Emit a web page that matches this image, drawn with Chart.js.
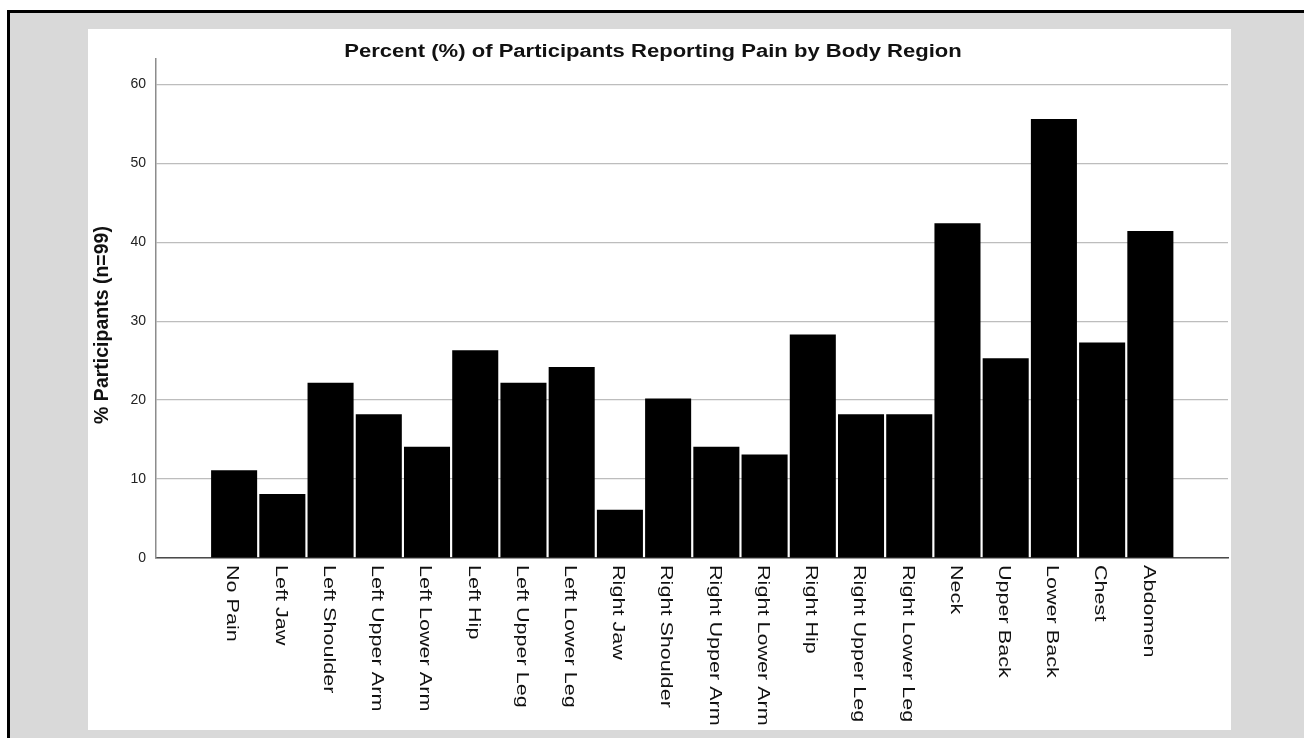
<!DOCTYPE html>
<html>
<head>
<meta charset="utf-8">
<script src="https://cdn.jsdelivr.net/npm/chart.js@4/dist/chart.umd.min.js"></script>
<style>
  html, body { margin: 0; padding: 0; background: #fff; overflow: hidden; }
  #frame {
    position: absolute; left: 7px; top: 10px; width: 1297px; height: 728px;
    box-sizing: border-box; border-top: 3px solid #000; border-left: 3px solid #000;
    background: #d9d9d9;
  }
  #panel { position: absolute; left: 88px; top: 29px; width: 1143px; height: 701px; background: #fff; }
</style>
</head>
<body>
<div id="frame"></div>
<div id="panel"><canvas id="chart"></canvas></div>
<script>
const chartTitle = "Percent (%) of Participants Reporting Pain by Body Region";
const yAxisTitle = "% Participants (n=99)";

const categories = [
  "No Pain", "Left Jaw", "Left Shoulder", "Left Upper Arm", "Left Lower Arm",
  "Left Hip", "Left Upper Leg", "Left Lower Leg", "Right Jaw", "Right Shoulder",
  "Right Upper Arm", "Right Lower Arm", "Right Hip", "Right Upper Leg", "Right Lower Leg",
  "Neck", "Upper Back", "Lower Back", "Chest", "Abdomen"
];

const percentValues = [
  11.1, 8.1, 22.2, 18.2, 14.1,
  26.3, 22.2, 24.2, 6.1, 20.2,
  14.1, 13.1, 28.3, 18.2, 18.2,
  42.4, 25.3, 55.6, 27.3, 41.4
];

const yTickValues = [0, 10, 20, 30, 40, 50, 60];

const FONT = '"Liberation Sans", Arial, sans-serif';

// draws title, y title and the rotated category labels (they read top to bottom)
const textPlugin = {
  id: "textPlugin",
  afterDraw(chart) {
    const { ctx, chartArea, scales } = chart;
    const x = scales.x;
    ctx.save();
    ctx.fillStyle = "#111";

    ctx.save();
    ctx.font = "bold 17.5px " + FONT;
    ctx.textAlign = "center";
    ctx.textBaseline = "alphabetic";
    ctx.translate(565, 28);
    ctx.scale(1.26, 1);
    ctx.fillText(chartTitle, 0, 0);
    ctx.restore();

    ctx.save();
    ctx.font = "bold 19.5px " + FONT;
    ctx.textAlign = "center";
    ctx.textBaseline = "middle";
    ctx.translate(15, 296);
    ctx.rotate(-Math.PI / 2);
    ctx.fillText(yAxisTitle, 0, 0);
    ctx.restore();

    ctx.font = "17px " + FONT;
    ctx.textAlign = "left";
    ctx.textBaseline = "middle";
    categories.forEach((label, i) => {
      ctx.save();
      ctx.translate(x.getPixelForValue(i) - 2, chartArea.bottom + 7);
      ctx.rotate(Math.PI / 2);
      ctx.scale(1.27, 1);
      ctx.fillText(label, 0, 0);
      ctx.restore();
    });

    ctx.restore();
  }
};

new Chart(document.getElementById("chart"), {
  type: "bar",
  data: {
    datasets: [
      {
        label: yAxisTitle,
        data: percentValues.map((v, i) => ({ x: i, y: v })),
        backgroundColor: "#000",
        borderWidth: 0,
        barPercentage: 0.955,
        categoryPercentage: 1,
      },
    ],
  },
  options: {
    responsive: true,
    maintainAspectRatio: false,
    animation: false,
    layout: { padding: { top: 30, right: 3, bottom: 0, left: 0 } },
    plugins: {
      legend: { display: false },
      title: { display: false },
      tooltip: { enabled: false },
    },
    scales: {
      x: {
        type: "linear",
        offset: false,
        min: -1.62,
        max: 20.61,
        grid: { display: false, offset: false },
        ticks: { display: false },
        border: { color: "#4a4a4a", width: 1.5 },
        afterFit: (s) => { s.height = 172; },
      },
      y: {
        min: 0,
        max: 63.2,
        afterBuildTicks: (s) => { s.ticks = yTickValues.map((v) => ({ value: v })); },
        ticks: {
          color: "#222",
          padding: 10,
          font: { family: FONT, size: 14 },
        },
        grid: { color: "#bdbdbd", lineWidth: 1.2, drawTicks: false },
        border: { color: "#8c8c8c", width: 1.5 },
        afterFit: (s) => { s.width = 68; },
      },
    },
  },
  plugins: [textPlugin],
});
</script>
</body>
</html>
